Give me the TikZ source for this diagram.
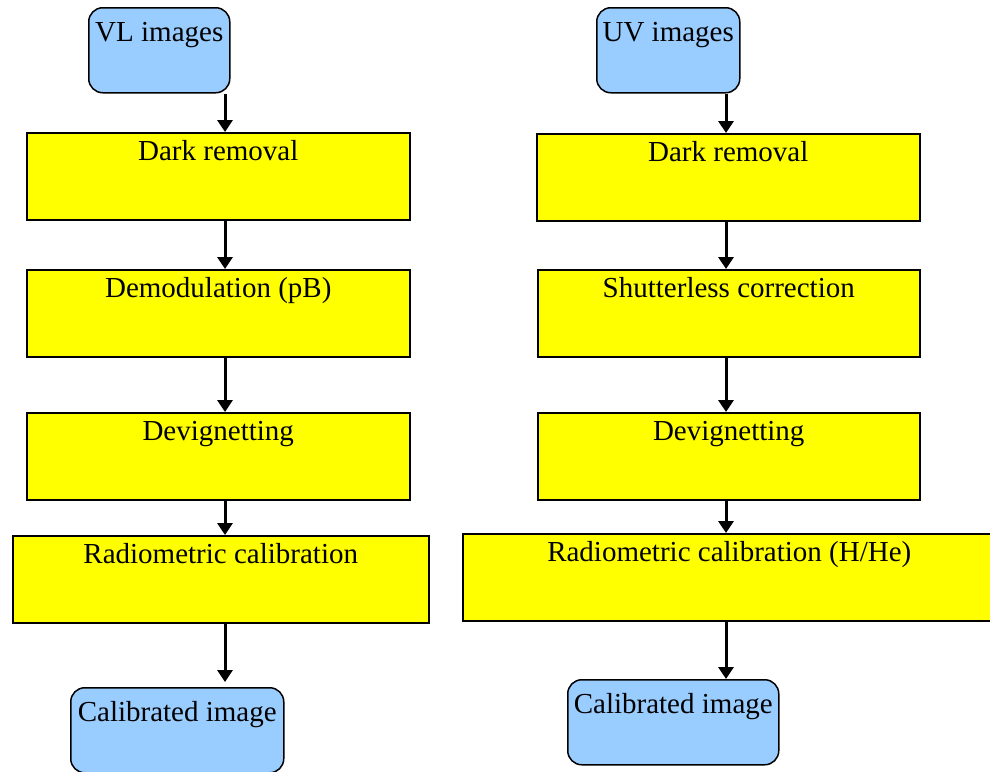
\documentclass[tikz,border=0pt]{standalone}
\usepackage{fontspec}
\setmainfont{Liberation Serif}
\usetikzlibrary{arrows.meta}

\definecolor{stepyellow}{RGB}{255,255,0}
\definecolor{imgblue}{RGB}{153,204,255}

\tikzset{
  stepbox/.style={draw=black, line width=1.5pt, fill=stepyellow, anchor=north west,
    inner sep=0pt, text height=28pt, text depth=59pt},
  imgbox/.style={draw=black, line width=1.5pt, fill=imgblue, rounded corners=14pt,
    anchor=north west, inner sep=0pt, text height=34pt, text depth=51pt},
  flow/.style={-{Triangle[width=15pt,length=12pt]}, line width=3pt}
}

\begin{document}
\begin{tikzpicture}[x=1pt,y=-1pt,font=\fontsize{29}{34}\selectfont]
            \useasboundingbox (0,0) rectangle (990,771);

            % VL chain
            \node[imgbox, minimum width=141pt] (vlin) at (88,7) {VL images};
            \node[stepbox, minimum width=383pt] (vldark) at (26,132) {Dark removal};
            \node[stepbox, minimum width=383pt] (vldemod) at (26,269) {Demodulation (pB)};
            \node[stepbox, minimum width=383pt] (vldevig) at (26,412) {Devignetting};
            \node[stepbox, minimum width=416pt] (vlrad) at (12,535) {Radiometric calibration};
            \node[imgbox, minimum width=213pt] (vlout) at (70,687) {Calibrated image};

            % UV chain
            \node[imgbox, minimum width=143pt] (uvin) at (596,7) {UV images};
            \node[stepbox, minimum width=383pt] (uvdark) at (536,133) {Dark removal};
            \node[stepbox, minimum width=382pt] (uvshut) at (537,269) {Shutterless correction};
            \node[stepbox, minimum width=382pt] (uvdevig) at (537,412) {Devignetting};
            \node[stepbox, minimum width=533pt] (uvrad) at (462,533) {Radiometric calibration (H/He)};
            \node[imgbox, minimum width=211pt] (uvout) at (567,679) {Calibrated image};

            \coordinate (vlaxis) at (225,0);
            \coordinate (uvaxis) at (726,0);

            \draw[flow] (vlin.south -| vlaxis) -- (vldark.north -| vlaxis);
            \draw[flow] (vldark.south -| vlaxis) -- (vldemod.north -| vlaxis);
            \draw[flow] (vldemod.south -| vlaxis) -- (vldevig.north -| vlaxis);
            \draw[flow] (vldevig.south -| vlaxis) -- (vlrad.north -| vlaxis);
            \draw[flow, shorten >=5pt] (vlrad.south -| vlaxis) -- (vlout.north -| vlaxis);

            \draw[flow] (uvin.south -| uvaxis) -- (uvdark.north -| uvaxis);
            \draw[flow] (uvdark.south -| uvaxis) -- (uvshut.north -| uvaxis);
            \draw[flow] (uvshut.south -| uvaxis) -- (uvdevig.north -| uvaxis);
            \draw[flow] (uvdevig.south -| uvaxis) -- (uvrad.north -| uvaxis);
            \draw[flow] (uvrad.south -| uvaxis) -- (uvout.north -| uvaxis);
        \end{tikzpicture}
\end{document}
